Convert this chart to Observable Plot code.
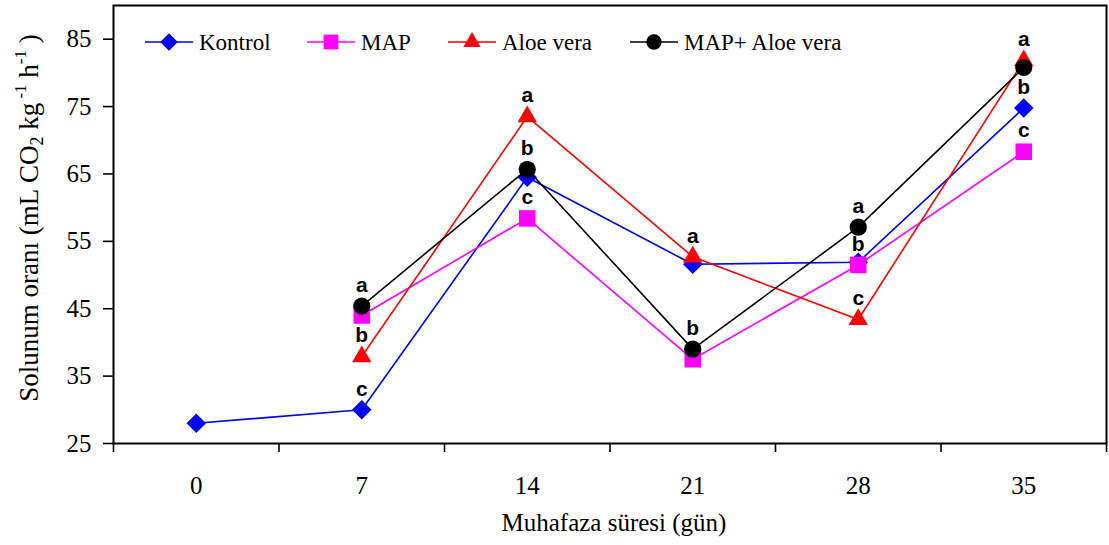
<!DOCTYPE html>
<html><head><meta charset="utf-8">
<script src="https://cdn.jsdelivr.net/npm/d3@7"></script>
<script src="https://cdn.jsdelivr.net/npm/@observablehq/plot@0.6"></script>
<style>body{margin:0;background:#fff} #chart{width:1109px;height:545px}</style>
</head><body><div id="chart"></div>
<script>
// ---- data ----
const days = [0, 7, 14, 21, 28, 35];
const dayBounds = [-3.5, 3.5, 10.5, 17.5, 24.5, 31.5, 38.5];
const yTicks = [25, 35, 45, 55, 65, 75, 85];
const seriesNames = ["Kontrol", "MAP", "Aloe vera", "MAP+ Aloe vera"];
const kontrol = [28.0, 30.0, 64.5, 51.6, 51.9, 74.8];
const mapVals = [null, 44.0, 58.4, 37.5, 51.5, 68.3];
const aloe    = [null, 37.9, 73.5, 52.7, 43.4, 81.8];
const combo   = [null, 45.4, 65.7, 39.0, 57.1, 80.8];
const kontrolLetters = ["", "c", "", "", "", "b"];
const mapLetters     = ["", "", "c", "", "b", "c"];
const aloeLetters    = ["", "b", "a", "a", "c", "a"];
const comboLetters   = ["", "a", "b", "b", "a", ""];

const serif = "'Liberation Serif', 'Times New Roman', serif";
const sans = "'Liberation Sans', Arial, sans-serif";

const styles = {
  "Kontrol":        {color: "#0000ff", symbol: "diamond2", d3sym: d3.symbolDiamond2, r: 8.8},
  "MAP":            {color: "#ff00ff", symbol: "square",   d3sym: d3.symbolSquare,   r: 9.3},
  "Aloe vera":      {color: "#ff0000", symbol: "triangle", d3sym: d3.symbolTriangle, r: 7.2},
  "MAP+ Aloe vera": {color: "#000000", symbol: "circle",   d3sym: d3.symbolCircle,   r: 8.6}
};

const seriesData = [
  {name: seriesNames[0], values: kontrol, letters: kontrolLetters},
  {name: seriesNames[1], values: mapVals, letters: mapLetters},
  {name: seriesNames[2], values: aloe, letters: aloeLetters},
  {name: seriesNames[3], values: combo, letters: comboLetters}
];
const rows = [];
seriesData.forEach(s => s.values.forEach((v, i) => {
  if (v != null) rows.push({series: s.name, day: days[i], value: v, letter: s.letters[i]});
}));

const seriesMarks = [];
for (const name of seriesNames) {
  const st = styles[name];
  const data = rows.filter(d => d.series === name);
  seriesMarks.push(Plot.line(data, {x: "day", y: "value", stroke: st.color, strokeWidth: 1.6}));
  seriesMarks.push(Plot.dot(data, {x: "day", y: "value", symbol: st.symbol, r: st.r, fill: st.color, stroke: "none"}));
}

const plot = Plot.plot({
  width: 1109, height: 545,
  marginLeft: 113, marginRight: 3, marginTop: 5, marginBottom: 102,
  style: {fontFamily: serif, background: "white", color: "black"},
  x: {type: "linear", domain: [-3.5, 38.5]},
  y: {domain: [25, 90]},
  marks: [
    Plot.axisY({ticks: yTicks, tickSize: 10, tickPadding: 12, fontSize: 25, label: null, strokeWidth: 1.6}),
    Plot.axisX({ticks: dayBounds, tickSize: 9, tickFormat: () => "", label: null, strokeWidth: 1.6}),
    Plot.axisX({ticks: days, tickSize: 0, tickPadding: 33, fontSize: 25, label: null}),
    ...seriesMarks,
    Plot.text(rows.filter(d => d.letter), {x: "day", y: "value", text: "letter", dy: -21,
      fontFamily: sans, fontWeight: "bold", fontSize: 21, fill: "black"}),
    Plot.frame({stroke: "black", strokeWidth: 2})
  ]
});

const svg = d3.select(plot);
// Axis titles
svg.append("text")
  .attr("x", 614).attr("y", 531)
  .attr("text-anchor", "middle")
  .attr("font-family", serif).attr("font-size", 25).attr("fill", "black")
  .text("Muhafaza süresi (gün)");

const yt = svg.append("text")
  .attr("transform", "translate(38,218) rotate(-90)")
  .attr("text-anchor", "middle")
  .attr("font-family", serif).attr("font-size", 27).attr("fill", "black");
yt.append("tspan").text("Solunum oranı (mL CO");
yt.append("tspan").attr("font-size", 18).attr("dy", 5).text("2");
yt.append("tspan").attr("dy", -5).text(" kg");
yt.append("tspan").attr("font-size", 17).attr("dy", -12).text(" -1");
yt.append("tspan").attr("dy", 12).text(" h");
yt.append("tspan").attr("font-size", 17).attr("dy", -12).text("-1");
yt.append("tspan").attr("dy", 12).text(" )");

// Legend inside the frame
const legendX = [145, 307, 448, 630];
const legendY = 42;
seriesNames.forEach((name, i) => {
  const st = styles[name];
  const g = svg.append("g").attr("transform", `translate(${legendX[i]},${legendY})`);
  g.append("line").attr("x1", 0).attr("x2", 48).attr("y1", 0).attr("y2", 0)
    .attr("stroke", st.color).attr("stroke-width", 1.6);
  g.append("path").attr("transform", "translate(24,0)")
    .attr("d", d3.symbol(st.d3sym, Math.PI * st.r * st.r * 0.8)())
    .attr("fill", st.color);
  g.append("text").attr("x", 54).attr("y", 0).attr("dy", "0.35em")
    .attr("text-anchor", "start")
    .attr("font-family", serif).attr("font-size", 23).attr("fill", "black")
    .text(name);
});

document.getElementById("chart").append(plot);
</script>
</body></html>
